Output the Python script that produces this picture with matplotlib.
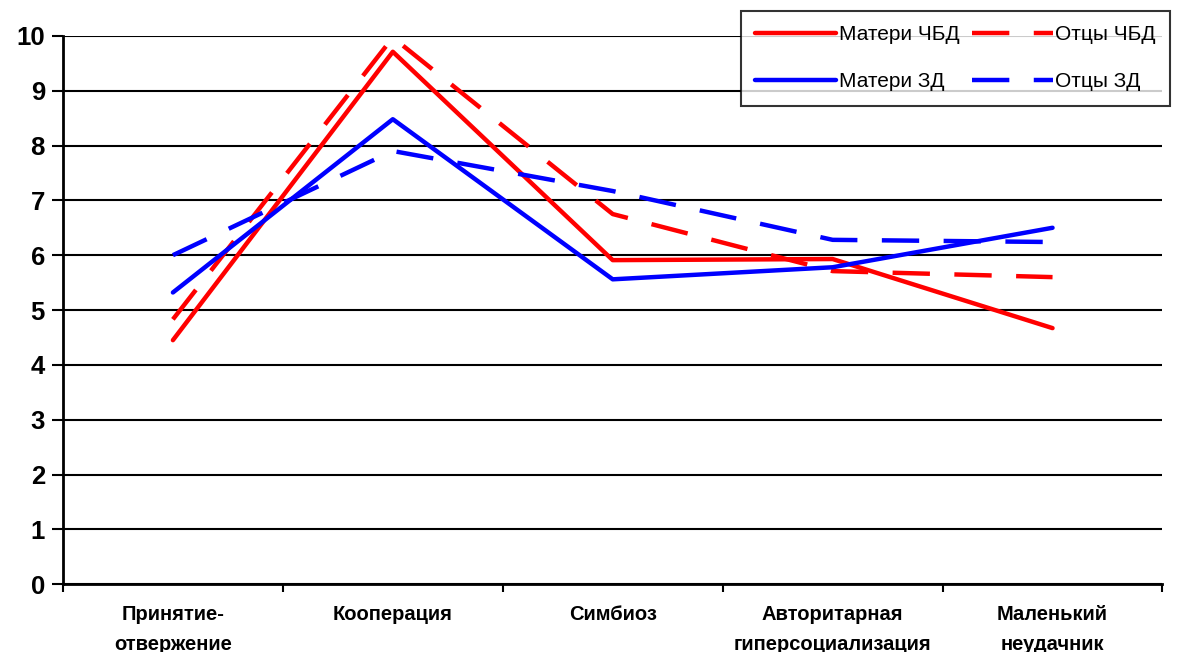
import matplotlib
matplotlib.use("Agg")
import matplotlib.pyplot as plt

plt.rcParams['font.family'] = ['Liberation Sans', 'DejaVu Sans']

categories = ['Принятие-\nотвержение', 'Кооперация', 'Симбиоз',
              'Авторитарная\nгиперсоциализация', 'Маленький\nнеудачник']

mothers_chbd = [4.45, 9.71, 5.91, 5.93, 4.67]
fathers_chbd = [4.83, 9.97, 6.75, 5.71, 5.60]
mothers_zd = [5.32, 8.48, 5.56, 5.78, 6.50]
fathers_zd = [6.00, 7.90, 7.17, 6.28, 6.24]

dashed = (0, (8.4, 5.5))
series = [
    ('Матери ЧБД', mothers_chbd, '#ff0000', '-'),
    ('Отцы ЧБД', fathers_chbd, '#ff0000', dashed),
    ('Матери ЗД', mothers_zd, '#0000ff', '-'),
    ('Отцы ЗД', fathers_zd, '#0000ff', dashed),
]

fig = plt.figure(figsize=(11.79, 6.52), dpi=100)
ax = fig.add_axes([0.0534, 0.104, 0.9326, 0.841])

x = range(len(categories))
lines = {}
for name, vals, color, ls in series:
    ln, = ax.plot(x, vals, color=color, linestyle=ls, linewidth=3.2, label=name,
                  solid_capstyle='round', dash_capstyle='butt', zorder=3)
    lines[name] = ln

ax.set_xlim(-0.5, len(categories) - 0.5)
ax.set_ylim(0, 10)
ax.set_yticks(range(0, 11))
ax.yaxis.grid(True, color='black', linewidth=1.5)
ax.set_axisbelow(True)

# category labels sit between boundary ticks
ax.set_xticks([i + 0.5 for i in range(-1, len(categories))])
ax.set_xticklabels([])
ax.set_xticks(list(x), minor=True)
ax.set_xticklabels(categories, minor=True, fontsize=14.5, fontweight='bold',
                   linespacing=1.7)
ax.tick_params(axis='x', which='minor', length=0, pad=15)
ax.tick_params(axis='x', which='major', length=6, width=1.5, direction='out')
ax.tick_params(axis='y', length=8, width=1.5, labelsize=18.5, pad=5)
for lbl in ax.get_yticklabels():
    lbl.set_fontweight('bold')

for side in ('top', 'right'):
    ax.spines[side].set_visible(False)
for side in ('left', 'bottom'):
    ax.spines[side].set_linewidth(2)
    ax.spines[side].set_color('black')

# legend fills column by column, so list mothers first
order = ['Матери ЧБД', 'Матери ЗД', 'Отцы ЧБД', 'Отцы ЗД']
leg = fig.legend([lines[n] for n in order], order, loc='upper left',
                 bbox_to_anchor=(0.6285, 0.983), ncol=2,
                 fontsize=15, frameon=True, fancybox=False, handlelength=3.9,
                 handletextpad=0.1, columnspacing=0.6, borderpad=0.68,
                 labelspacing=1.35, borderaxespad=0)
leg.get_frame().set_edgecolor('black')
leg.get_frame().set_linewidth(1.5)

fig.savefig('out.png', dpi=100)
